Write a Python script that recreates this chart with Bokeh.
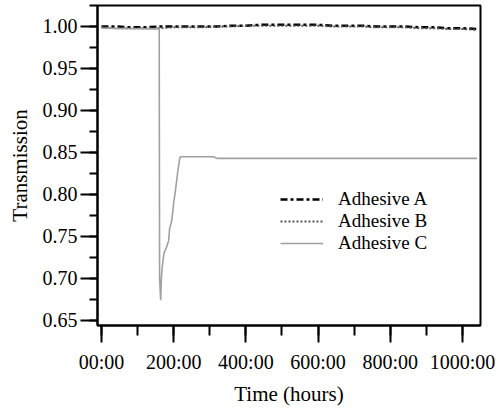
from bokeh.plotting import figure
from bokeh.models import Range1d, SingleIntervalTicker, Legend, LegendItem, PrintfTickFormatter
from bokeh.embed import file_html
from bokeh.resources import INLINE

# ---- data ----
hours_ab = [0, 40, 80, 120, 160, 200, 240, 280, 320, 360, 400, 440, 480, 520,
            560, 600, 640, 680, 720, 760, 800, 840, 880, 920, 960, 1000, 1040]
adhesive_a = [1.000, 1.000, 0.999, 0.999, 1.000, 1.000, 1.000, 1.000, 1.000,
              1.001, 1.001, 1.002, 1.002, 1.002, 1.002, 1.002, 1.001, 1.001,
              1.001, 1.000, 1.000, 1.000, 0.999, 0.999, 0.998, 0.998, 0.997]
adhesive_b = [0.999, 0.998, 0.998, 0.998, 0.998, 0.999, 0.999, 0.999, 1.000,
              1.000, 1.001, 1.001, 1.001, 1.001, 1.001, 1.001, 1.000, 1.000,
              1.000, 0.999, 0.999, 0.999, 0.998, 0.998, 0.997, 0.997, 0.996]
hours_c = [0, 160, 161, 164, 166, 168, 173, 180, 186, 189, 194, 198, 200, 205,
           211, 217, 221, 310, 320, 1040]
adhesive_c = [0.998, 0.997, 0.700, 0.674, 0.700, 0.712, 0.730, 0.737, 0.745,
              0.760, 0.767, 0.781, 0.790, 0.805, 0.826, 0.844, 0.845, 0.845,
              0.843, 0.843]
x_tick_values = [0, 200, 400, 600, 800, 1000]
x_tick_labels = ["00:00", "200:00", "400:00", "600:00", "800:00", "1000:00"]
series_names = ["Adhesive A", "Adhesive B", "Adhesive C"]

FONT = "Liberation Serif"

p = figure(width=499, height=411, output_backend="svg", toolbar_location=None,
           x_range=Range1d(-11, 1050), y_range=Range1d(0.644, 1.025),
           min_border_left=97, min_border_right=19, min_border_top=5,
           min_border_bottom=86)

p.grid.visible = False
p.outline_line_color = "black"
p.outline_line_width = 2
p.background_fill_color = "white"
p.border_fill_color = "white"

ra = p.line(hours_ab, adhesive_a, line_color="black", line_width=2.5,
            line_dash="7 3 3 3")
rb = p.line(hours_ab, adhesive_b, line_color="#555555", line_width=2,
            line_dash="2 2")
rc = p.line(hours_c, adhesive_c, line_color="#a0a0a0", line_width=1.6)

# axes
p.xaxis.ticker = SingleIntervalTicker(interval=200, num_minor_ticks=2)
p.yaxis.ticker = SingleIntervalTicker(interval=0.05, num_minor_ticks=2)
p.xaxis.major_label_overrides = {v: l for v, l in zip(x_tick_values, x_tick_labels)}
p.yaxis.formatter = PrintfTickFormatter(format="%.2f")

for ax in (p.xaxis[0], p.yaxis[0]):
    ax.axis_line_color = "black"
    ax.axis_line_width = 2
    ax.major_tick_line_color = "black"
    ax.major_tick_line_width = 2
    ax.minor_tick_line_color = "black"
    ax.minor_tick_line_width = 2
    ax.major_tick_in = 0
    ax.minor_tick_in = 0
    ax.major_tick_out = 17
    ax.major_label_text_font = FONT
    ax.major_label_text_font_size = "20px"
    ax.major_label_text_color = "black"
    ax.axis_label_text_font = FONT
    ax.axis_label_text_font_size = "21px"
    ax.axis_label_text_font_style = "normal"
    ax.axis_label_text_color = "black"

p.xaxis.minor_tick_out = 10
p.yaxis.minor_tick_out = 8
p.xaxis.major_label_standoff = 8
p.yaxis.major_label_standoff = 3
p.xaxis.axis_label = "Time (hours)"
p.yaxis.axis_label = "Transmission"
p.xaxis.axis_label_standoff = 6
p.yaxis.axis_label_standoff = 8

legend = Legend(items=[LegendItem(label=series_names[0], renderers=[ra]),
                       LegendItem(label=series_names[1], renderers=[rb]),
                       LegendItem(label=series_names[2], renderers=[rc])],
                location=(183, 71), border_line_color=None,
                background_fill_alpha=0, padding=0, margin=0, spacing=0,
                glyph_width=43, glyph_height=20, label_height=20,
                label_standoff=15, label_text_font=FONT,
                label_text_font_size="19px", label_text_color="black")
p.add_layout(legend, "center")

open("out.html", "w").write(file_html(p, INLINE))
